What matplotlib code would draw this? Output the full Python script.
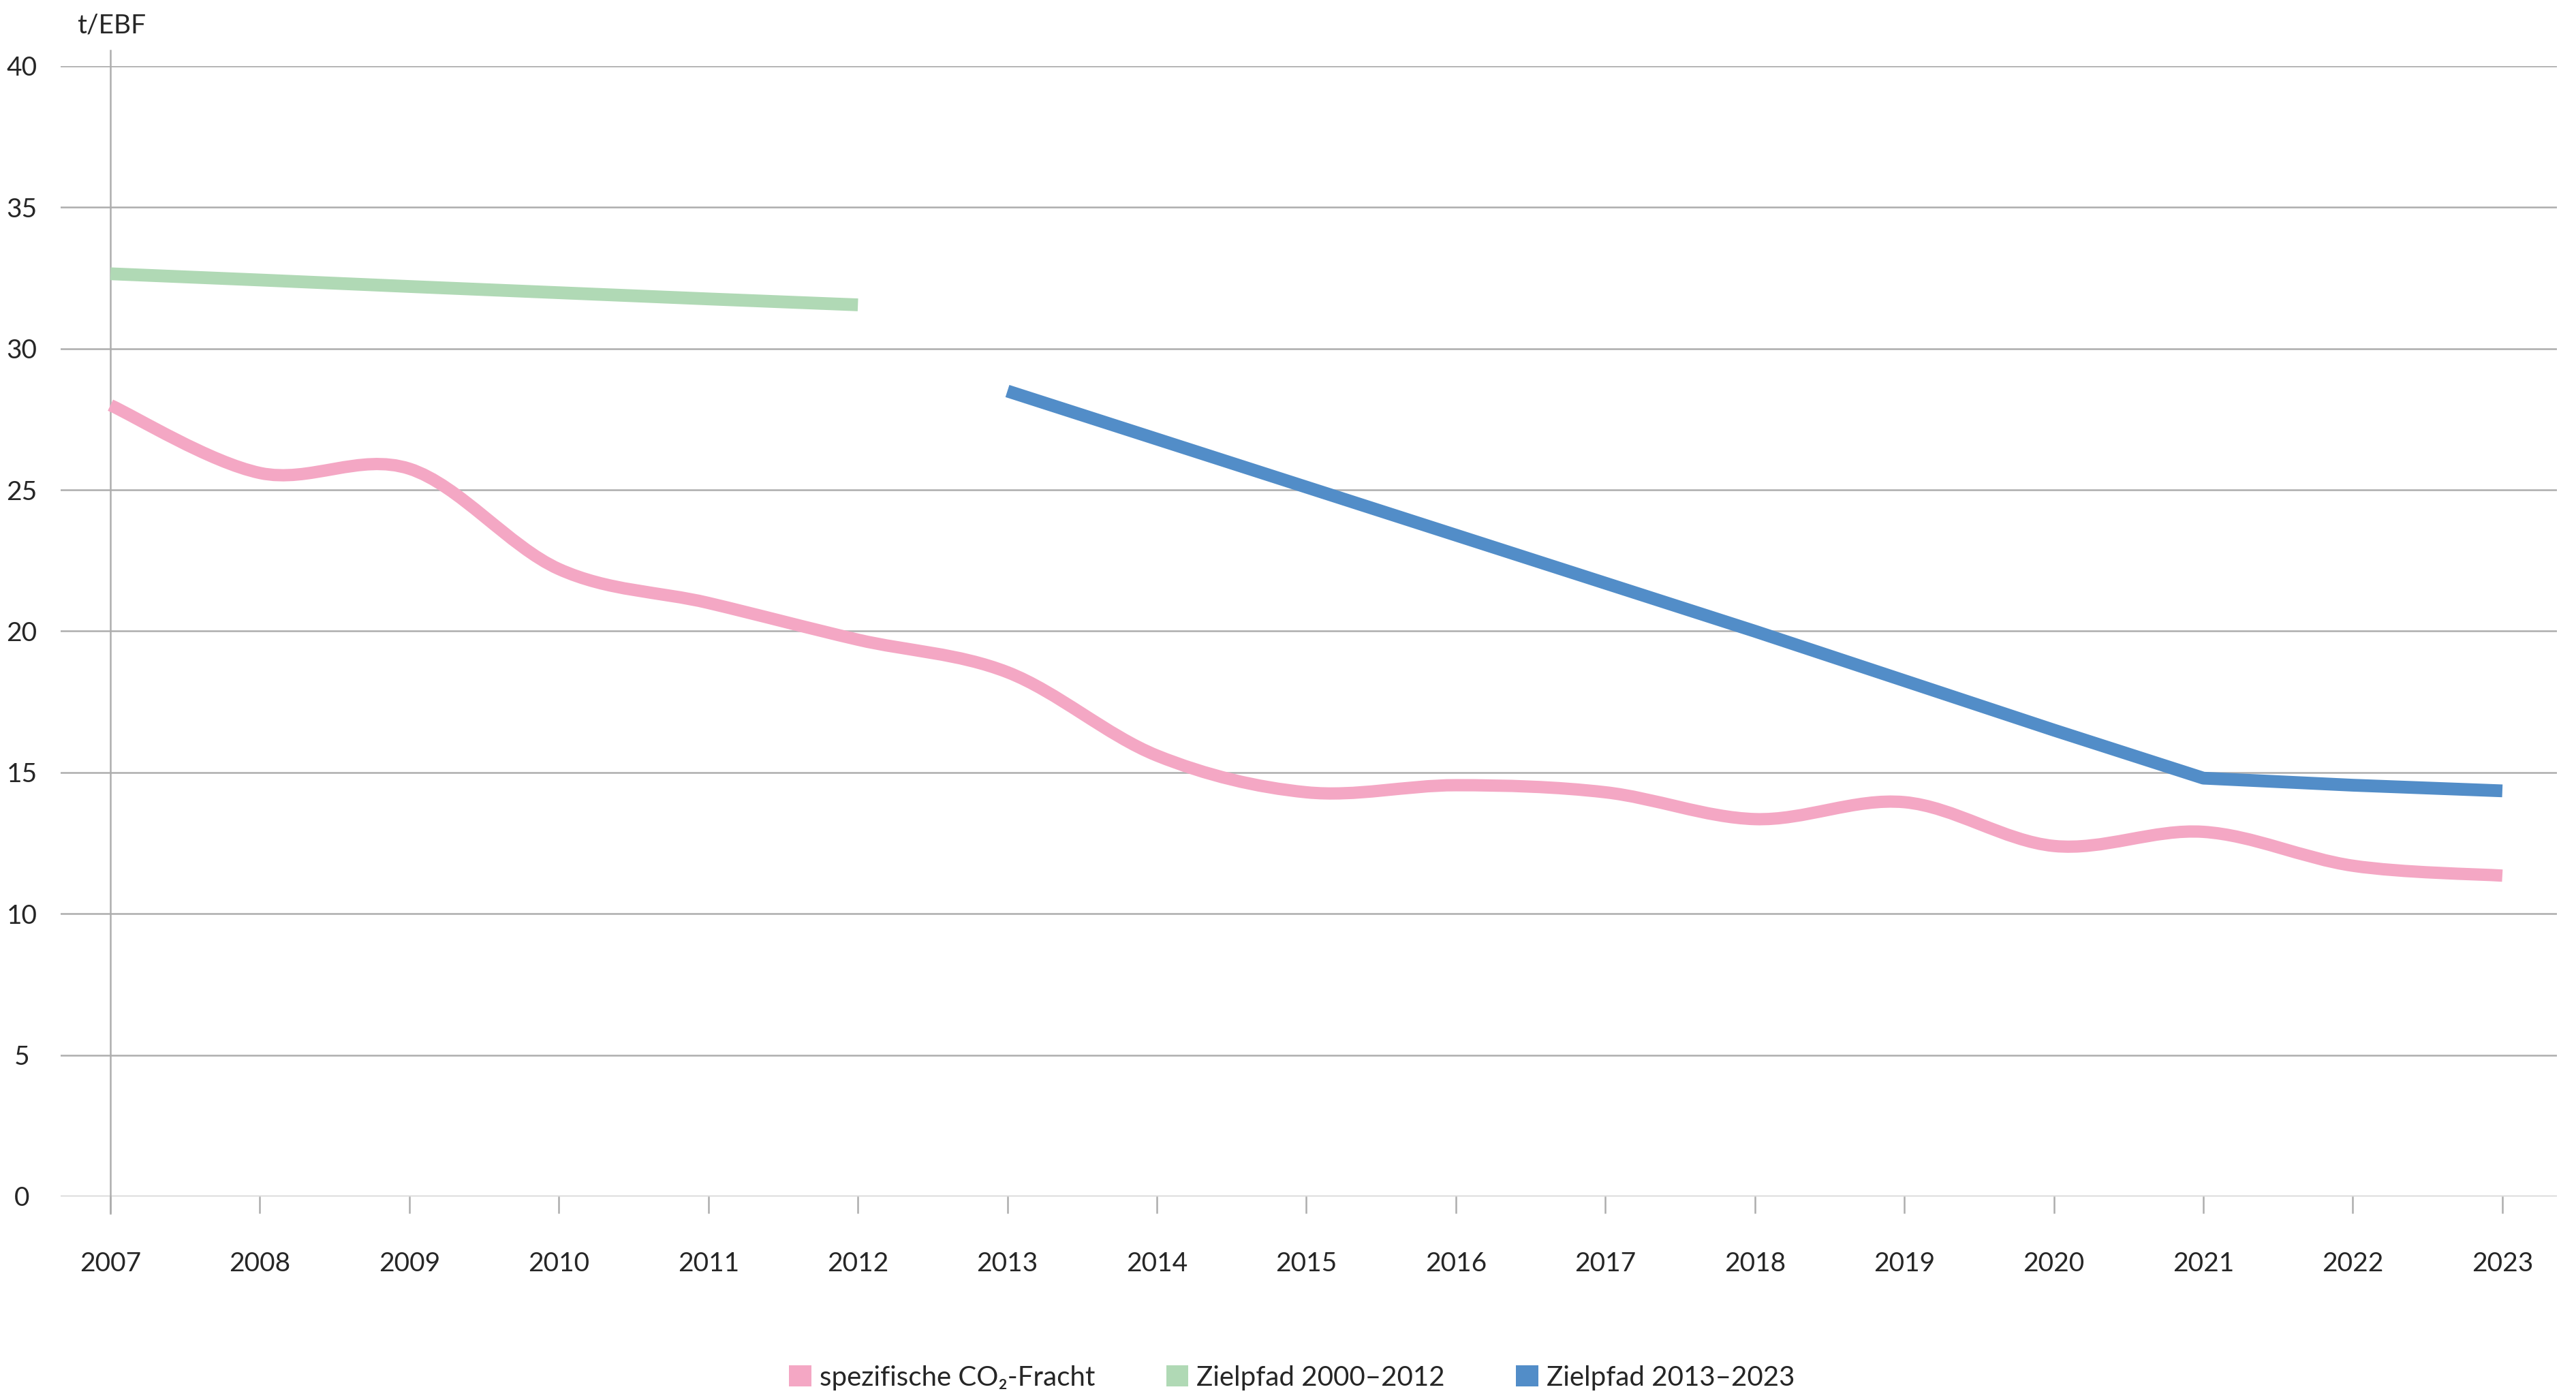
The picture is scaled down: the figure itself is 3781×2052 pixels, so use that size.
import numpy as np
import matplotlib.pyplot as plt
from matplotlib.path import Path
from matplotlib.patches import PathPatch, Patch

plt.rcParams['font.family'] = ['Lato', 'DejaVu Sans']

years = list(range(2007, 2024))
fracht = [28.0, 25.6, 25.75, 22.2, 21.0, 19.7, 18.55, 15.6, 14.3, 14.55,
          14.3, 13.35, 13.95, 12.4, 12.9, 11.7, 11.35]

years_alt = list(range(2007, 2013))
ziel_alt = [32.65, 32.43, 32.2, 31.98, 31.76, 31.55]

years_neu = list(range(2013, 2024))
ziel_neu = [28.5, 26.8, 25.1, 23.4, 21.7, 20.0, 18.25, 16.5, 14.8, 14.55, 14.35]

y_ticks = [0, 5, 10, 15, 20, 25, 30, 35, 40]

pink = '#F4A7C4'
green = '#B0D9B5'
blue = '#528DC8'
grid_col = '#ADADAD'
text_col = '#262626'


def smooth_path(xs, ys):
    # catmull-rom as cubic bezier, like excel's smoothed lines
    p = np.column_stack([xs, ys]).astype(float)
    verts = [p[0]]
    codes = [Path.MOVETO]
    n = len(p)
    for i in range(n - 1):
        p0 = p[i - 1] if i > 0 else p[i]
        p1 = p[i]
        p2 = p[i + 1]
        p3 = p[i + 2] if i + 2 < n else p[i + 1]
        c1 = p1 + (p2 - p0) / 6
        c2 = p2 - (p3 - p1) / 6
        verts += [c1, c2, p2]
        codes += [Path.CURVE4] * 3
    return Path(verts, codes)


fig = plt.figure(figsize=(37.81, 20.52), dpi=100)
ax = fig.add_axes([0.02354, 0.14425, 0.96905, 0.80848])

ax.set_xlim(2006.667, 2023.365)
ax.set_ylim(0, 40)

for v in y_ticks:
    ax.axhline(v, color=grid_col, lw=1.8, zorder=1)

ax.plot([2007, 2007], [-0.6, 40.55], color=grid_col, lw=1.8,
        clip_on=False, zorder=1)

ax.add_patch(PathPatch(smooth_path(years, fracht), facecolor='none',
                       edgecolor=pink, lw=13, capstyle='butt', zorder=3))
ax.plot(years_alt, ziel_alt, color=green, lw=13.5, solid_capstyle='butt', zorder=3)
ax.plot(years_neu, ziel_neu, color=blue, lw=13.5, solid_capstyle='butt', zorder=3)

for s in ax.spines.values():
    s.set_visible(False)

ax.set_xticks(years)
ax.set_xticklabels([str(y) for y in years])
ax.tick_params(axis='x', length=18, width=1.8, color=grid_col, pad=40,
               labelsize=28, labelcolor=text_col)
ax.set_yticks(y_ticks)
ax.set_yticklabels([str(v) for v in y_ticks])
ax.tick_params(axis='y', length=0, pad=41, labelsize=28, labelcolor=text_col)
for lab in ax.get_yticklabels():
    lab.set_horizontalalignment('center')

fig.text(164 / 3781, 1 - 37 / 2052, 't/EBF', ha='center', va='center',
         fontsize=28, color=text_col)

handles = [Patch(facecolor=pink, edgecolor='none'),
           Patch(facecolor=green, edgecolor='none'),
           Patch(facecolor=blue, edgecolor='none')]
labels = ['spezifische CO₂-Fracht', 'Zielpfad 2000–2012', 'Zielpfad 2013–2023']
fig.legend(handles, labels, loc='center', bbox_to_anchor=(0.5015, 0.0146),
           ncol=3, frameon=False, fontsize=29, handlelength=0.8,
           handleheight=0.8, handletextpad=0.3, columnspacing=2.6,
           borderpad=0, labelcolor=text_col)

fig.savefig('out.png', dpi=100)
